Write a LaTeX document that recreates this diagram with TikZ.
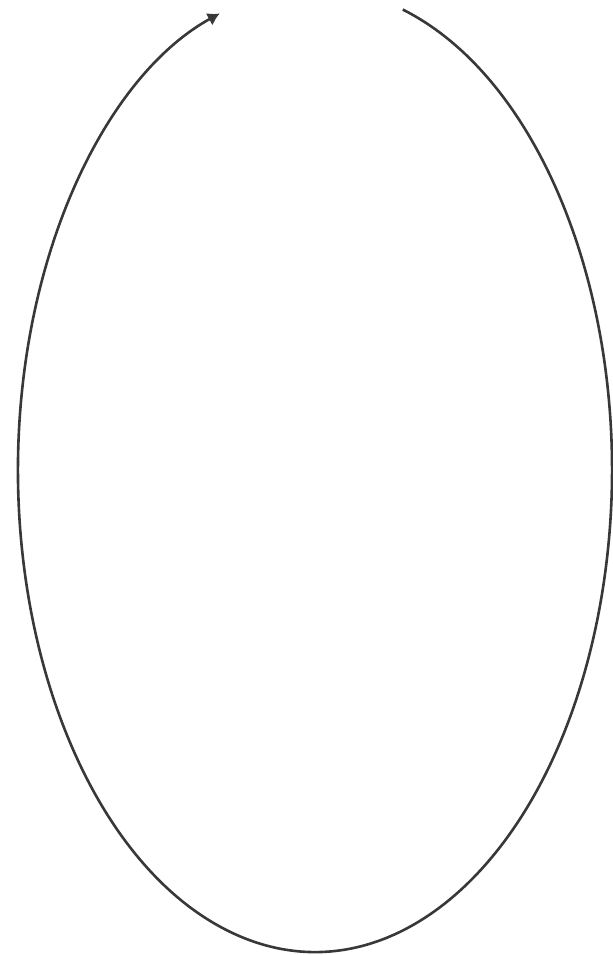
\documentclass[tikz,border=0pt]{standalone}
\usepackage{tikz}
\usetikzlibrary{arrows.meta}
\definecolor{ink}{HTML}{383838}

\begin{document}
\begin{tikzpicture}[x=0.5pt,y=0.5pt,
  loop/.style={draw=ink,line width=1.3pt,-{Latex[length=6pt,width=7pt]}}]
 \useasboundingbox (0,0) rectangle (612,955);
 \coordinate (o) at (315,485);
 \draw[loop] ([shift={(72.8:297 and 482)}]o) arc[start angle=72.8,end angle=-251.3,x radius=297,y radius=482];
\end{tikzpicture}
\end{document}
